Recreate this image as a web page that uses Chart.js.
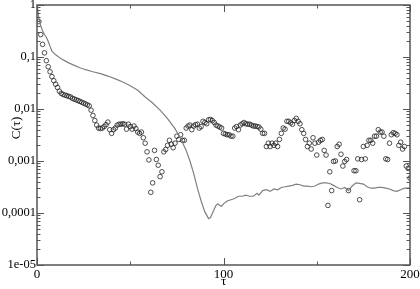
<!DOCTYPE html>
<html>
<head>
<meta charset="utf-8">
<script src="https://cdn.jsdelivr.net/npm/chart.js@4"></script>
<style>
  html, body { margin: 0; padding: 0; background: #fff; }
  #wrap { width: 420px; height: 289px; position: relative; }
</style>
</head>
<body>
<div id="wrap"><canvas id="corrChart"></canvas></div>
<script>
// circles: C(tau) for tau = 1..200 (null where no marker is visible)
const circleC = [
  0.48, 0.27, 0.175, 0.12, 0.085, 0.065, 0.052, 0.042, 0.035, 0.030,
  0.026, 0.022, 0.020, 0.019, 0.0185, 0.018, 0.0175, 0.017, 0.016, 0.0155,
  0.015, 0.0145, 0.014, 0.0135, 0.013, 0.0125, 0.012, 0.0115, 0.0095, 0.0075,
  0.006, 0.0049, 0.0043, 0.0042, 0.0043, 0.0046, 0.0050, 0.0056, 0.0040, 0.0034,
  0.0040, 0.0043, 0.0049, 0.0051, 0.0051, 0.0052, 0.0051, 0.0041, 0.0051, 0.0046,
  0.0041, 0.0047, 0.0042, 0.0036, 0.0034, 0.0036, 0.0028, 0.0022, 0.0015, 0.00105,
  0.00025, 0.00038, 0.0016, 0.00107, 0.00083, 0.0005, 0.00062, 0.0015, 0.00166, 0.002,
  0.0025, 0.0021, 0.0018, 0.0022, 0.003, 0.0026, 0.0032, 0.0025, 0.0025, 0.0043,
  0.0047, 0.0049, 0.004, 0.0047, 0.005, 0.0051, 0.0043, 0.0046, 0.0058, 0.0055,
  0.0052, 0.0062, 0.0063, 0.006, 0.0055, 0.0049, 0.0047, 0.0045, 0.0043, 0.0034,
  0.0033, 0.0032, 0.0032, 0.003, 0.003, 0.0043, 0.0046, 0.004, 0.0049, 0.0052,
  0.0055, 0.0052, 0.0051, 0.0051, 0.0049, 0.0047, 0.0047, 0.0046, 0.0045, 0.0041,
  0.0034, 0.0034, 0.0019, 0.0022, 0.0019, 0.0022, 0.002, 0.0022, 0.0019, 0.0026,
  0.0034, 0.0043, 0.0041, 0.0058, 0.0058, 0.0054, 0.0051, 0.006, 0.0066, 0.0058,
  0.0052, 0.004, 0.0034, 0.0026, 0.0019, 0.0022, 0.0017, 0.0028, 0.0022, 0.0013,
  0.0023, 0.0025, 0.0026, 0.0016, 0.0013, 0.00014, 0.00062, 0.00027, 0.00098, 0.001,
  0.0019, 0.0021, 0.00135, 0.0008, 0.00098, 0.00107, 0.00027, null, null, 0.00065,
  0.00065, 0.0011, 0.00018, 0.00107, 0.0019, 0.0011, 0.002, 0.0025, 0.0025, 0.0022,
  0.003, 0.003, 0.004, 0.0036, 0.0036, 0.003, 0.0011, 0.00107, 0.0022, 0.0032,
  0.0035, 0.0034, 0.0032, 0.002, 0.0023, 0.0017, 0.0019, 0.0008, 0.00072, 0.00047
];

// gray curve
const lineTau = [
  0, 1, 2, 3, 4, 5, 6, 7, 8, 10, 12, 14, 17, 20, 23, 26, 30, 34, 38, 42,
  46, 50, 54, 58, 62, 66, 70, 74, 77, 80, 82, 84, 86, 88, 90, 92, 93, 94, 95, 96,
  97, 98, 99, 100, 102, 104, 106, 108, 110, 112, 114, 116, 118, 119, 121, 123, 125, 127, 129, 131,
  133, 135, 137, 139, 141, 143, 145, 147, 149, 151, 153, 155, 157, 159, 161, 163, 165, 167, 169, 171,
  173, 175, 177, 179, 181, 183, 185, 187, 189, 191, 193, 195, 197, 200
];
const lineC = [
  1.0, 0.55, 0.40, 0.32, 0.27, 0.24, 0.20, 0.16, 0.13, 0.11, 0.098, 0.088, 0.077, 0.069, 0.062, 0.057, 0.052, 0.048, 0.043, 0.038,
  0.033, 0.028, 0.023, 0.017, 0.013, 0.0095, 0.0065, 0.0042, 0.0027, 0.0016, 0.0010, 0.00058, 0.00030, 0.00017, 0.000105, 0.000078, 0.000082, 0.000098, 0.000118, 0.00014,
  0.00015, 0.00014, 0.000135, 0.00015, 0.00017, 0.00018, 0.00019, 0.00021, 0.00021, 0.00022, 0.00021, 0.00021, 0.00024, 0.00022, 0.00027, 0.00028, 0.00026, 0.00029, 0.00028, 0.00031,
  0.00032, 0.00033, 0.00034, 0.00036, 0.00035, 0.00033, 0.00033, 0.00032, 0.00033, 0.00036, 0.00038, 0.00038, 0.00037, 0.00034, 0.00031, 0.00029, 0.00031, 0.00027, 0.00033, 0.00038,
  0.00037, 0.00036, 0.00032, 0.00030, 0.00030, 0.00031, 0.00031, 0.00030, 0.00029, 0.00027, 0.00026, 0.00028, 0.00030, 0.00030
];

const xTicks = [0, 100, 200];
const xMinorTicks = [50, 150];
const yTicks = [1e-5, 1e-4, 1e-3, 0.01, 0.1, 1];
const yTickLabels = ['1e-05', '0,0001', '0,001', '0,01', '0,1', '1'];
const xTitle = 'τ';
const yTitle = 'C(τ)';

const serif = 'Liberation Serif, Times New Roman, Times, serif';
const frameColor = '#555';

// inward tick marks on all four sides, full frame and axis titles
const frameTicks = {
  id: 'frameTicks',
  afterDatasetsDraw(chart) {
    const { ctx, chartArea: a, scales: { x, y } } = chart;
    ctx.save();
    ctx.strokeStyle = frameColor;
    ctx.lineWidth = 1;
    ctx.beginPath();
    const major = 7, minor = 3.5;
    xTicks.concat(xMinorTicks).forEach(v => {
      const len = xTicks.includes(v) ? major : minor;
      const px = Math.round(x.getPixelForValue(v)) + 0.5;
      ctx.moveTo(px, a.bottom); ctx.lineTo(px, a.bottom - len);
      ctx.moveTo(px, a.top); ctx.lineTo(px, a.top + len);
    });
    yTicks.forEach((d, i) => {
      for (let m = 1; m <= 9; m++) {
        const v = d * m;
        if (v > 1 || (m > 1 && i === yTicks.length - 1)) break;
        const len = m === 1 ? major : minor;
        const py = Math.round(y.getPixelForValue(v)) + 0.5;
        ctx.moveTo(a.left, py); ctx.lineTo(a.left + len, py);
        ctx.moveTo(a.right, py); ctx.lineTo(a.right - len, py);
      }
    });
    ctx.stroke();
    ctx.lineWidth = 1.5;
    ctx.strokeRect(a.left, a.top, a.right - a.left, a.bottom - a.top);

    ctx.fillStyle = '#000';
    ctx.font = '13px ' + serif;
    ctx.textAlign = 'center';
    ctx.textBaseline = 'middle';
    ctx.fillText(xTitle, (a.left + a.right) / 2, 282);
    ctx.translate(17, 128);
    ctx.rotate(-Math.PI / 2);
    ctx.fillText(yTitle, 0, 0);
    ctx.restore();
  }
};

new Chart(document.getElementById('corrChart'), {
  type: 'scatter',
  data: {
    datasets: [
      {
        type: 'line',
        data: lineTau.map((t, i) => ({ x: t, y: lineC[i] })),
        borderColor: '#808080',
        borderWidth: 1.2,
        pointRadius: 0,
        fill: false,
        tension: 0
      },
      {
        data: circleC.map((c, i) => ({ x: i + 1, y: c })),
        pointRadius: 2.3,
        pointBorderWidth: 0.8,
        borderColor: '#222',
        backgroundColor: 'rgba(0,0,0,0)'
      }
    ]
  },
  options: {
    responsive: true,
    maintainAspectRatio: false,
    animation: false,
    layout: { padding: { top: 5, right: 10, left: 0, bottom: 0 } },
    plugins: { legend: { display: false }, tooltip: { enabled: false } },
    scales: {
      x: {
        type: 'linear',
        min: 0,
        max: 200,
        grid: { display: false, drawTicks: false },
        border: { display: false },
        afterBuildTicks: s => { s.ticks = xTicks.map(v => ({ value: v })); },
        afterFit: s => { s.height = 24; s.paddingLeft = 0; s.paddingRight = 0; },
        ticks: {
          padding: 2,
          maxRotation: 0,
          autoSkip: false,
          color: '#000',
          font: { family: serif, size: 13 }
        }
      },
      y: {
        type: 'logarithmic',
        min: 1e-5,
        max: 1,
        grid: { display: false, drawTicks: false },
        border: { display: false },
        afterBuildTicks: s => { s.ticks = yTicks.map(v => ({ value: v })); },
        afterFit: s => { s.width = 37; s.paddingTop = 0; s.paddingBottom = 0; },
        ticks: {
          padding: 1,
          autoSkip: false,
          color: '#000',
          font: { family: serif, size: 12.5 },
          callback: v => {
            const i = yTicks.findIndex(t => Math.abs(Math.log10(t) - Math.log10(v)) < 1e-6);
            return i >= 0 ? yTickLabels[i] : '';
          }
        }
      }
    }
  },
  plugins: [frameTicks]
});
</script>
</body>
</html>
